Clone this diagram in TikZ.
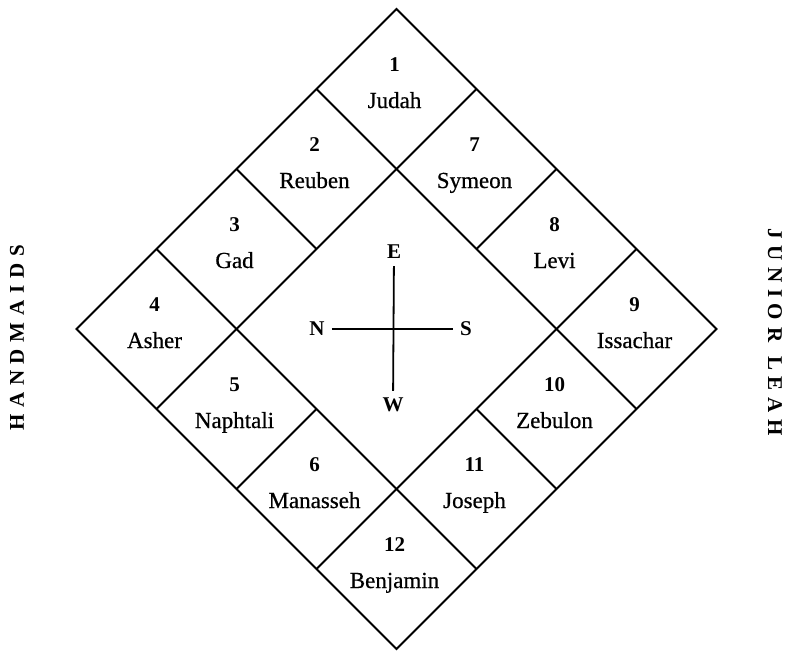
\documentclass[tikz,border=0pt]{standalone}
\usepackage{fontspec}
\setmainfont{Liberation Serif}
\usetikzlibrary{positioning}

\begin{document}
\begin{tikzpicture}[x=1pt,y=-1pt,
    edge/.style={line width=2pt,line join=miter},
    num/.style={font=\fontsize{21}{23}\selectfont\bfseries,anchor=base,inner sep=0pt},
    tribe/.style={font=\fontsize{23}{25}\selectfont\addfontfeature{FakeBold=0.6},anchor=base,inner sep=0pt},
    dir/.style={font=\fontsize{21}{23}\selectfont\bfseries,inner sep=7pt},
    side/.style={font=\fontsize{21}{23}\selectfont\bfseries\addfontfeature{LetterSpace=32}}]
  \useasboundingbox (0,0) rectangle (787,651);
  % the twelve tribes round the camp
  \begin{scope}[shift={(396.5,9)},x={(-80pt,-80pt)},y={(80pt,-80pt)}]
    \draw[edge] (0,0) -- (4,0) -- (4,4) -- (0,4) -- cycle;
    \foreach \k in {1,3} {
      \draw[edge] (\k,0) -- (\k,4);
      \draw[edge] (0,\k) -- (4,\k);
    }
    \draw[edge] (2,0) -- (2,1) (2,3) -- (2,4) (0,2) -- (1,2) (3,2) -- (4,2);
    \foreach \n/\a/\b/\name in {1/0/0/Judah,2/1/0/Reuben,3/2/0/Gad,4/3/0/Asher,
        5/3/1/Naphtali,6/3/2/Manasseh,7/0/1/Symeon,8/0/2/Levi,9/0/3/Issachar,
        10/1/3/Zebulon,11/2/3/Joseph,12/3/3/Benjamin} {
      \node[num,yshift=18pt,xshift=-2pt] (n\n) at (\a+.5,\b+.5) {\n};
      \node[tribe,yshift=-19pt,xshift=-2pt] (t\n) at (\a+.5,\b+.5) {\name};
    }
  \end{scope}
  % compass
  \node[dir] (E) at (394,252) {E};
  \node[dir] (W) at (393,405) {W};
  \node[dir] (N) at (317,329) {N};
  \node[dir] (S) at (466,329) {S};
  \draw[line width=1.8pt] (N) -- (S);
  \draw[line width=1.8pt] (E) -- (W);
  % sides
  \node[side,rotate=90] (hm) at (17,338) {HANDMAIDS};
  \node[side,rotate=-90] (jl) at (775,332) {JUNIOR\rule{14pt}{0pt}LEAH};
\end{tikzpicture}
\end{document}
